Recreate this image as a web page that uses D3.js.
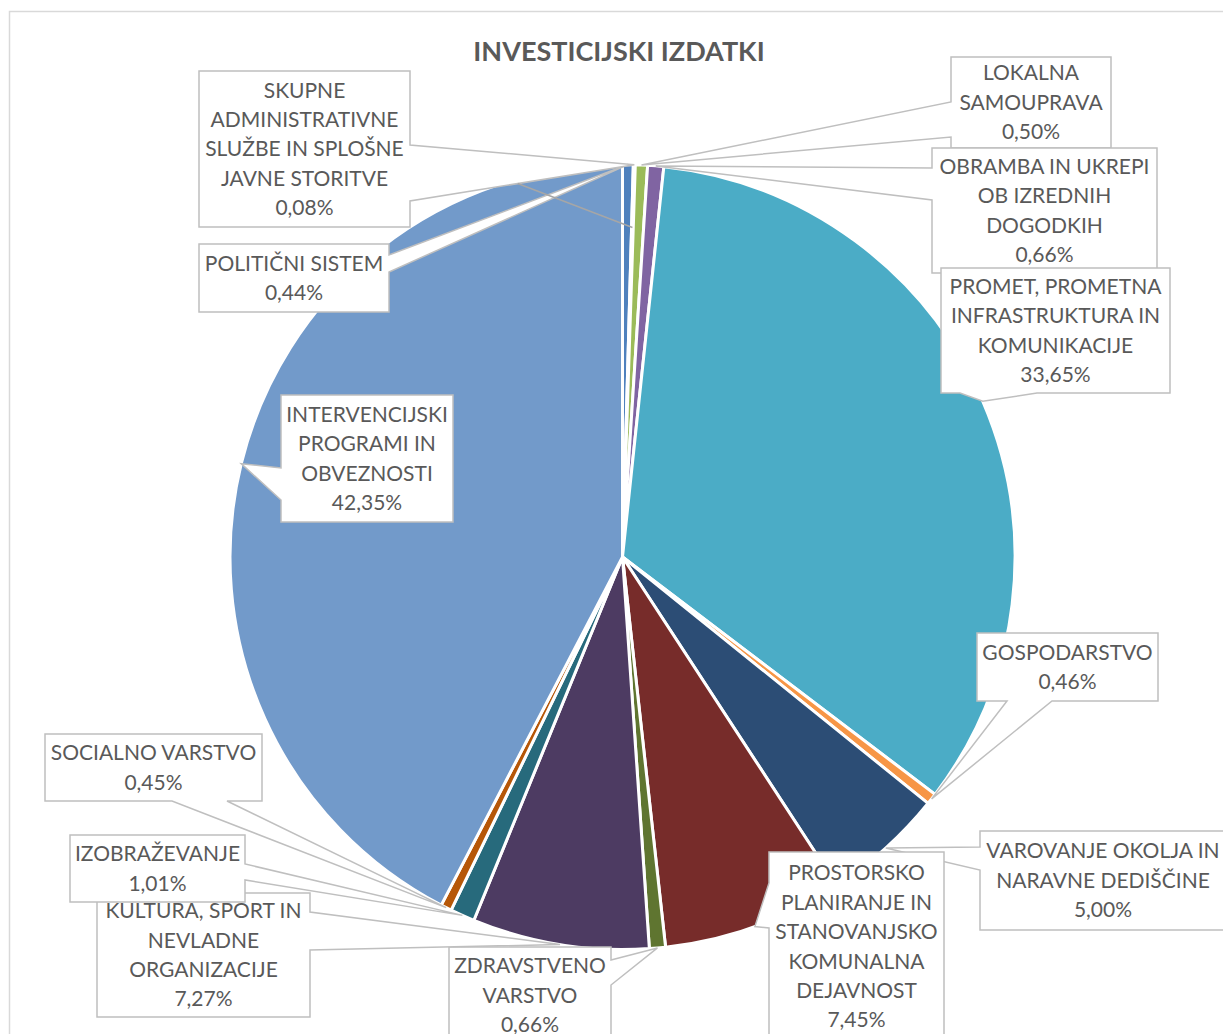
<!DOCTYPE html>
<html>
<head>
<meta charset="utf-8">
<script src="https://cdn.jsdelivr.net/npm/d3@7"></script>
<style>
  body { margin: 0; background: #fff; }
  svg { display: block; }
</style>
</head>
<body>
<div id="chartArea"></div>
<script>
// podatki
var categories = [
    "POLITIČNI SISTEM",
    "SKUPNE ADMINISTRATIVNE SLUŽBE IN SPLOŠNE JAVNE STORITVE",
    "LOKALNA SAMOUPRAVA",
    "OBRAMBA IN UKREPI OB IZREDNIH DOGODKIH",
    "PROMET, PROMETNA INFRASTRUKTURA IN KOMUNIKACIJE",
    "GOSPODARSTVO",
    "VAROVANJE OKOLJA IN NARAVNE DEDIŠČINE",
    "PROSTORSKO PLANIRANJE IN STANOVANJSKO KOMUNALNA DEJAVNOST",
    "ZDRAVSTVENO VARSTVO",
    "KULTURA, ŠPORT IN NEVLADNE ORGANIZACIJE",
    "IZOBRAŽEVANJE",
    "SOCIALNO VARSTVO",
    "INTERVENCIJSKI PROGRAMI IN OBVEZNOSTI"
];
var values = [0.44, 0.08, 0.50, 0.66, 33.65, 0.46, 5.00, 7.45, 0.66, 7.27, 1.01, 0.45, 42.35];
// kako je besedilo prelomljeno v oznakah
var labelLines = [
    ["POLITIČNI SISTEM"],
    ["SKUPNE", "ADMINISTRATIVNE", "SLUŽBE IN SPLOŠNE", "JAVNE STORITVE"],
    ["LOKALNA", "SAMOUPRAVA"],
    ["OBRAMBA IN UKREPI", "OB IZREDNIH", "DOGODKIH"],
    ["PROMET, PROMETNA", "INFRASTRUKTURA IN", "KOMUNIKACIJE"],
    ["GOSPODARSTVO"],
    ["VAROVANJE OKOLJA IN", "NARAVNE DEDIŠČINE"],
    ["PROSTORSKO", "PLANIRANJE IN", "STANOVANJSKO", "KOMUNALNA", "DEJAVNOST"],
    ["ZDRAVSTVENO", "VARSTVO"],
    ["KULTURA, ŠPORT IN", "NEVLADNE", "ORGANIZACIJE"],
    ["IZOBRAŽEVANJE"],
    ["SOCIALNO VARSTVO"],
    ["INTERVENCIJSKI", "PROGRAMI IN", "OBVEZNOSTI"]
];
var colors = ["#4F81BD", "#C0504D", "#9BBB59", "#8064A2", "#4BACC6", "#F79646",
              "#2C4D75", "#772C2A", "#5F7530", "#4D3B62", "#276A7C", "#B65708", "#729ACA"];

// postavitev oznak (ročno premaknjene kot v Excelu)
var boxes = [
    {x: 199, y: 244, w: 190, h: 68,  side: "right",  a: 11, b: 28},
    {x: 199, y: 71,  w: 211, h: 156, side: "right",  a: 74, b: 130},
    {x: 951, y: 57,  w: 160, h: 91,  side: "left",   a: 45, b: 80},
    {x: 932, y: 148, w: 225, h: 125, side: "left",   a: 20, b: 52},
    {x: 941, y: 268, w: 229, h: 125, side: "bottom", a: 19, b: 96},
    {x: 977, y: 633, w: 181, h: 68,  side: "bottom", a: 30, b: 75},
    {x: 980, y: 831, w: 246, h: 99,  side: "left",   a: 16, b: 39},
    {x: 769, y: 852, w: 175, h: 189, side: "left",   a: 31, b: 76},
    {x: 449, y: 947, w: 162, h: 97,  side: "right",  a: 13, b: 38},
    {x: 97,  y: 893, w: 213, h: 124, side: "right",  a: 19, b: 57},
    {x: 70,  y: 835, w: 175, h: 67,  side: "right",  a: 29, b: 45},
    {x: 45,  y: 734, w: 217, h: 67,  side: "bottom", a: 127, b: 182},
    {x: 281, y: 395, w: 172, h: 127, side: "left",   a: 73, b: 105}
];

var width = 1223, height = 1034;
var cx = 622.5, cy = 557, radius = 392.5;
var lineH = 29.4;
var textColor = "#595959";

var svg = d3.select("#chartArea").append("svg")
    .attr("width", width).attr("height", height);

// okvir grafikona
svg.append("rect")
    .attr("x", 9.5).attr("y", 11.5)
    .attr("width", 1240).attr("height", 1100)
    .attr("fill", "#fff")
    .attr("stroke", "#d9d9d9").attr("stroke-width", 1.5);

svg.append("text")
    .attr("x", 619).attr("y", 52).attr("dy", "0.35em")
    .attr("text-anchor", "middle")
    .style("font", "bold 27px Lato")
    .attr("fill", textColor)
    .text("INVESTICIJSKI IZDATKI");

var pie = d3.pie().sort(null).value(function(d) { return d; });
var arcs = pie(values);
var arc = d3.arc().innerRadius(0).outerRadius(radius);

var g = svg.append("g").attr("transform", "translate(" + cx + "," + cy + ")");
g.selectAll("path.slice")
    .data(arcs).enter().append("path")
    .attr("class", "slice")
    .attr("d", arc)
    .attr("fill", function(d, i) { return colors[i]; })
    .attr("stroke", "#fff")
    .attr("stroke-width", 3)
    .attr("stroke-linejoin", "round");

// točka na robu izseka (sredinski kot)
function edgePoint(d, r) {
    var ang = (d.startAngle + d.endAngle) / 2;
    return [cx + r * Math.sin(ang), cy - r * Math.cos(ang)];
}

function calloutPath(b, t) {
    var x0 = b.x, y0 = b.y, x1 = b.x + b.w, y1 = b.y + b.h;
    var p = d3.path();
    p.moveTo(x0, y0);
    if (b.side == "right") {
        p.lineTo(x1, y0);
        p.lineTo(x1, y0 + b.a);
        p.lineTo(t[0], t[1]);
        p.lineTo(x1, y0 + b.b);
        p.lineTo(x1, y1);
        p.lineTo(x0, y1);
    } else if (b.side == "left") {
        p.lineTo(x1, y0);
        p.lineTo(x1, y1);
        p.lineTo(x0, y1);
        p.lineTo(x0, y0 + b.b);
        p.lineTo(t[0], t[1]);
        p.lineTo(x0, y0 + b.a);
    } else {
        p.lineTo(x1, y0);
        p.lineTo(x1, y1);
        p.lineTo(x0 + b.b, y1);
        p.lineTo(t[0], t[1]);
        p.lineTo(x0 + b.a, y1);
        p.lineTo(x0, y1);
    }
    p.closePath();
    return p.toString();
}

var labels = svg.selectAll(".label")
    .data(arcs).enter().append("g")
    .attr("class", "label");

labels.append("path")
    .attr("d", function(d, i) { return calloutPath(boxes[i], edgePoint(d, radius)); })
    .attr("fill", "#fff")
    .attr("stroke", "#bfbfbf")
    .attr("stroke-width", 1.5)
    .attr("stroke-linejoin", "miter");

labels.each(function(d, i) {
    var b = boxes[i];
    var lines = labelLines[i].concat([values[i].toFixed(2).replace(".", ",") + "%"]);
    var midY = b.y + b.h / 2;
    var midX = b.x + b.w / 2;
    var first = midY - (lines.length - 1) * lineH / 2;
    d3.select(this).selectAll("text")
        .data(lines).enter().append("text")
        .attr("x", midX)
        .attr("y", function(l, k) { return first + k * lineH; })
        .attr("dy", "0.35em")
        .attr("text-anchor", "middle")
        .style("font", "21px Lato")
        .attr("fill", textColor)
        .text(function(l) { return l; });
});

// dodatna vodilna črta za skupne službe
var sk = boxes[1];
var skTip = edgePoint(arcs[1], radius);
var skFrom = [sk.x + sk.w + (skTip[0] - sk.x - sk.w) * 0.48,
              sk.y + sk.b + (skTip[1] - sk.y - sk.b) * 0.48];
var skTo = edgePoint(arcs[1], radius * 0.84);
svg.append("line")
    .attr("x1", skFrom[0]).attr("y1", skFrom[1])
    .attr("x2", skTo[0]).attr("y2", skTo[1])
    .attr("stroke", "#a6a6a6").attr("stroke-width", 1.5);
</script>
</body>
</html>
